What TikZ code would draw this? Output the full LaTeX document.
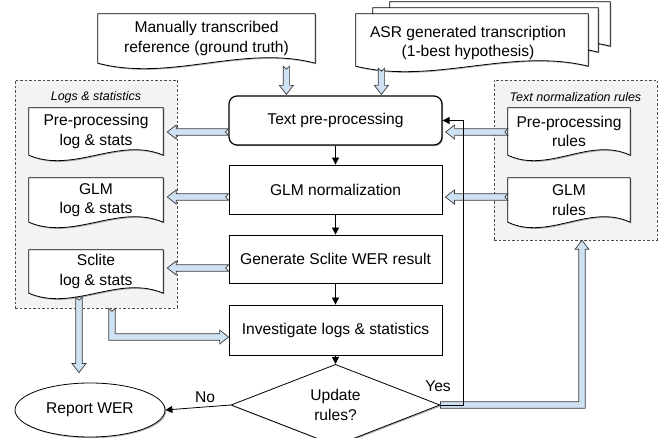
\documentclass[tikz,border=0pt]{standalone}
\usepackage{fontspec}
\setmainfont{Liberation Sans}
\usetikzlibrary{shapes.geometric,calc,shadows,arrows.meta}
\definecolor{lblue}{HTML}{CFE2F3}
\definecolor{bedge}{HTML}{3A3A3A}
\definecolor{panel}{HTML}{F3F3F3}
\pgfdeclarelayer{bg}\pgfdeclarelayer{mid}
\pgfsetlayers{bg,mid,main}
\tikzset{
  base/.style={font=\fontsize{15.6}{19.5}\selectfont, align=center, inner sep=0pt},
  shad/.style={drop shadow={shadow xshift=1.2pt, shadow yshift=-1.2pt, opacity=0.3, fill=black}},
  proc/.style={base, draw, fill=white, minimum width=213pt, minimum height=49pt, line width=0.8pt, shad},
  doctxt/.style={base},
  docline/.style={draw, fill=white, line width=0.8pt, shad},
  panelbox/.style={draw=black!70, dash pattern=on 2.5pt off 2pt, fill=panel, line width=0.7pt, inner sep=0pt},
  flow/.style={-{Triangle[length=7pt,width=7pt]}, line width=0.8pt},
  barrow/.style={draw=bedge, fill=lblue, line width=0.7pt, line join=miter},
  lab/.style={font=\fontsize{12.5}{15}\selectfont\itshape, inner sep=0pt},
}
\newcommand\docframe[1]{%
  \filldraw[docline] (#1.south west) -- (#1.north west) -- (#1.north east) -- (#1.south east)
    .. controls ($(#1.south east)!0.3333!(#1.south west)+(0,-19)$) and ($(#1.south east)!0.6667!(#1.south west)+(0,19)$) .. (#1.south west) -- cycle;}
% vertical hollow arrow: #1 tail, #2 tip, #3 = 1 down, -1 up
\newcommand\bvert[3]{%
  \filldraw[barrow] ($(#1)+(-3.2,0)$) -- ($(#2)+(-3.2,{-(#3)*9})$) -- ($(#2)+(-7,{-(#3)*9})$) -- (#2)
   -- ($(#2)+(7,{-(#3)*9})$) -- ($(#2)+(3.2,{-(#3)*9})$) -- ($(#1)+(3.2,0)$) -- ($(#1)+(0,{(#3)*3})$) -- cycle;}
% horizontal hollow arrow: #3 = 1 right, -1 left
\newcommand\bhorz[3]{%
  \filldraw[barrow] ($(#1)+(0,-3.2)$) -- ($(#2)+({-(#3)*9},-3.2)$) -- ($(#2)+({-(#3)*9},-7)$) -- (#2)
   -- ($(#2)+({-(#3)*9},7)$) -- ($(#2)+({-(#3)*9},3.2)$) -- ($(#1)+(0,3.2)$) -- ($(#1)+({(#3)*3},0)$) -- cycle;}
\begin{document}
\begin{tikzpicture}[x=1pt,y=-1pt]
\useasboundingbox (0,0) rectangle (670,438);
% panels
\begin{pgfonlayer}{bg}
  \node[panelbox, minimum width=162pt, minimum height=228pt] (lp) at (96,194) {};
  \node[panelbox, minimum width=163pt, minimum height=160pt] (rp) at (575.5,160) {};
\end{pgfonlayer}
\node[lab] (lpl) at (96,97) {Logs \& statistics};
\node[lab] (rpl) at (575.5,97) {Text normalization rules};
% process column
\node[proc, rounded corners=8pt, line width=1.2pt] (tp) at (335.5,120.5) {Text pre-processing};
\node[proc] (glm) at (335.5,189.5) {GLM normalization};
\node[proc, minimum height=48pt] (sc) at (335.5,259) {Generate Sclite WER result};
\node[proc, minimum height=50pt] (inv) at (335.5,330) {Investigate logs \& statistics};
\node[base, diamond, draw, fill=white, line width=0.8pt, shad, minimum width=209pt, minimum height=60pt] (dec) at (335.5,405) {Update\\rules?};
\node[base, ellipse, draw, fill=white, line width=0.8pt, shad, minimum width=150pt, minimum height=54pt] (rep) at (90,410) {Report WER};
% documents
\node[doctxt, minimum width=217pt, minimum height=49pt] (man) at (206.5,38.5) {Manually transcribed\\reference (ground truth)};
\node[doctxt, minimum width=220pt, minimum height=44pt] (asrC) at (500,24) {};
\node[doctxt, minimum width=225pt, minimum height=44pt] (asrB) at (485.5,30) {};
\node[doctxt, minimum width=232pt, minimum height=52pt] (asr) at (472,40) {};
\node[doctxt] (asrt) at (468,43) {ASR generated transcription\\(1-best hypothesis)};
\node[doctxt, minimum width=134pt, minimum height=47pt] (plog) at (96,131.5) {Pre-processing\\log \& stats};
\node[doctxt, minimum width=134pt, minimum height=44pt] (glog) at (96,200) {GLM\\log \& stats};
\node[doctxt, minimum width=134pt, minimum height=43pt] (slog) at (96,271.5) {Sclite\\log \& stats};
\node[doctxt, minimum width=122pt, minimum height=47pt] (prules) at (569,131.5) {Pre-processing\\rules};
\node[doctxt, minimum width=122pt, minimum height=44pt] (grules) at (569,200) {GLM\\rules};
\begin{pgfonlayer}{mid}
  \docframe{man}
  \docframe{asrC}
  \docframe{asrB}
  \docframe{asr}
  \docframe{plog}
  \docframe{glog}
  \docframe{slog}
  \docframe{prules}
  \docframe{grules}
\end{pgfonlayer}
% labels
\node[base] (no) at (205,397) {No};
\node[base] (yes) at (438,386) {Yes};
% hollow arrows
\coordinate (a1t) at ($(man.south -| tp.north west)+(58,3)$);
\coordinate (a1h) at ($(tp.north west)+(58,-1)$);
\bvert{a1t}{a1h}{1}
\coordinate (a2t) at ($(asr.south -| tp.north west)+(153,2)$);
\coordinate (a2h) at ($(tp.north west)+(153,-1)$);
\bvert{a2t}{a2h}{1}
\coordinate (a3t) at ($(tp.west)+(0,11.5)$);
\coordinate (a3h) at ($(a3t -| plog.east)+(4,0)$);
\bhorz{a3t}{a3h}{-1}
\coordinate (a4t) at ($(glm.west)+(0,7.5)$);
\coordinate (a4h) at ($(a4t -| glog.east)+(4,0)$);
\bhorz{a4t}{a4h}{-1}
\coordinate (a5t) at ($(sc.west)+(0,9)$);
\coordinate (a5h) at ($(a5t -| slog.east)+(4,0)$);
\bhorz{a5t}{a5h}{-1}
\coordinate (a6h) at ($(tp.east)+(3,11.5)$);
\coordinate (a6t) at (a6h -| prules.west);
\bhorz{a6t}{a6h}{-1}
\coordinate (a7h) at ($(glm.east)+(3,7.5)$);
\coordinate (a7t) at (a7h -| grules.west);
\bhorz{a7t}{a7h}{-1}
\coordinate (a8t) at ($(slog.south)+(-17,4)$);
\coordinate (a8h) at ($(a8t |- rep.north)+(0,-10)$);
\bvert{a8t}{a8h}{1}
% L arrow: logs panel -> investigate
\coordinate (a9t) at ($(lp.south)+(16,0)$);
\coordinate (a9h) at ($(inv.west)+(0,7)$);
\coordinate (a9c) at (a9t |- a9h);
\filldraw[barrow] ($(a9t)+(-3.2,0)$) -- ($(a9c)+(-3.2,3.2)$) -- ($(a9h)+(-9,3.2)$) -- ($(a9h)+(-9,7)$) -- (a9h)
  -- ($(a9h)+(-9,-7)$) -- ($(a9h)+(-9,-3.2)$) -- ($(a9c)+(3.2,-3.2)$) -- ($(a9t)+(3.2,0)$) -- ($(a9t)+(0,3)$) -- cycle;
% L arrow: decision -> rules panel
\coordinate (a10t) at (dec.east);
\coordinate (a10h) at ($(rp.south)+(6.5,0)$);
\coordinate (a10c) at (a10t -| a10h);
\filldraw[barrow] ($(a10t)+(0,-3.2)$) -- ($(a10c)+(-3.2,-3.2)$) -- ($(a10h)+(-3.2,9)$) -- ($(a10h)+(-7,9)$) -- (a10h)
  -- ($(a10h)+(7,9)$) -- ($(a10h)+(3.2,9)$) -- ($(a10c)+(3.2,3.2)$) -- ($(a10t)+(0,3.2)$) -- cycle;
% black flow
\draw[flow] (tp) -- (glm);
\draw[flow] (glm) -- (sc);
\draw[flow] (sc) -- (inv);
\draw[flow] (inv) -- (dec);
\draw[flow] (dec.west) -- (rep.east);
\draw[flow] (dec.east) -- ($(dec.east)+(23,0)$) |- (tp.east);
\end{tikzpicture}
\end{document}
